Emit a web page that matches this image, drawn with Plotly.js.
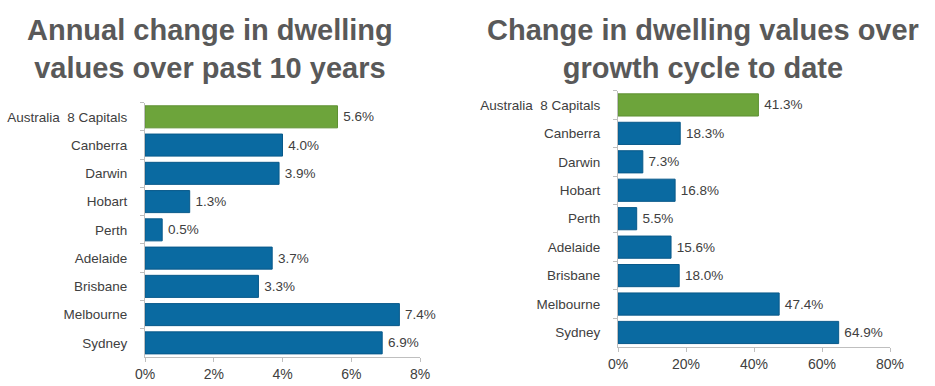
<!DOCTYPE html>
<html>
<head>
<meta charset="utf-8">
<script src="https://cdn.plot.ly/plotly-3.0.1.min.js"></script>
<style>html,body{margin:0;padding:0;background:#fff;}#chart{width:935px;height:386px;}</style>
</head>
<body>
<div id="chart"></div>
<script>
const cities = ["Australia\u00a0 8 Capitals", "Canberra", "Darwin", "Hobart", "Perth", "Adelaide", "Brisbane", "Melbourne", "Sydney"];
const annualChange = [5.6, 4.0, 3.9, 1.3, 0.5, 3.7, 3.3, 7.4, 6.9];
const cycleChange = [41.3, 18.3, 7.3, 16.8, 5.5, 15.6, 18.0, 47.4, 64.9];
const leftTicks = [0, 2, 4, 6, 8];
const rightTicks = [0, 20, 40, 60, 80];
const titleLeft = "Annual change in dwelling<br>values over past 10 years";
const titleRight = "Change in dwelling values over<br>growth cycle to date";

const GREEN = "#6da43b", BLUE = "#0a6aa1";
const colors = cities.map((c, i) => i === 0 ? GREEN : BLUE);
const lineColors = cities.map((c, i) => i === 0 ? "#5e9032" : "#08598a");
const FONT = 'Arial, "Liberation Sans", sans-serif';
const TXT = "#404040";

const traces = [
  {type: "bar", orientation: "h", x: annualChange, y: cities, xaxis: "x", yaxis: "y",
   marker: {color: colors, line: {color: lineColors, width: 1}},
   text: annualChange.map(v => "\u2009" + v.toFixed(1) + "%"), textposition: "outside",
   textfont: {family: FONT, size: 13.5, color: TXT}, cliponaxis: false, hoverinfo: "none"},
  {type: "bar", orientation: "h", x: cycleChange, y: cities, xaxis: "x2", yaxis: "y2",
   marker: {color: colors, line: {color: lineColors, width: 1}},
   text: cycleChange.map(v => "\u2009" + v.toFixed(1) + "%"), textposition: "outside",
   textfont: {family: FONT, size: 13.5, color: TXT}, cliponaxis: false, hoverinfo: "none"}
];

const yCommon = {type: "category", autorange: "reversed", showgrid: false, zeroline: false,
  showline: true, linecolor: "#bfbfbf", linewidth: 1, ticks: "outside", ticklen: 4,
  tickcolor: "#bfbfbf", tickson: "boundaries", ticklabelstandoff: 14,
  tickfont: {family: FONT, size: 13.5, color: TXT}, automargin: false, fixedrange: true};
const xCommon = {showgrid: false, zeroline: false, showline: true, linecolor: "#bfbfbf",
  linewidth: 1, ticks: "outside", ticklen: 4, tickcolor: "#bfbfbf",
  tickfont: {family: FONT, size: 14, color: TXT}, automargin: false, fixedrange: true};

const layout = {
  width: 935, height: 386, margin: {l: 0, r: 0, t: 0, b: 0},
  paper_bgcolor: "#fff", plot_bgcolor: "#fff", showlegend: false,
  bargap: 0.22,
  xaxis: Object.assign({}, xCommon, {domain: [145/935, 420/935], range: [0, 8],
    tickvals: leftTicks, ticktext: leftTicks.map(v => v + "%"), anchor: "y"}),
  yaxis: Object.assign({}, yCommon, {domain: [(386-357)/386, (386-102.7)/386], anchor: "x"}),
  xaxis2: Object.assign({}, xCommon, {domain: [618/935, 890/935], range: [0, 80],
    tickvals: rightTicks, ticktext: rightTicks.map(v => v + "%"), anchor: "y2"}),
  yaxis2: Object.assign({}, yCommon, {domain: [(386-346.7)/386, (386-90.7)/386], anchor: "x2"}),
  annotations: [
    {text: "<b>" + titleLeft + "</b>", xref: "paper", yref: "paper", x: 210/935, y: 1 - 12/386,
     xanchor: "center", yanchor: "top", showarrow: false, align: "center",
     font: {family: FONT, size: 29, color: "#595959"}},
    {text: "<b>" + titleRight + "</b>", xref: "paper", yref: "paper", x: 703/935, y: 1 - 12/386,
     xanchor: "center", yanchor: "top", showarrow: false, align: "center",
     font: {family: FONT, size: 29, color: "#595959"}}
  ]
};

Plotly.newPlot("chart", traces, layout, {staticPlot: true, displayModeBar: false});
</script>
</body>
</html>
